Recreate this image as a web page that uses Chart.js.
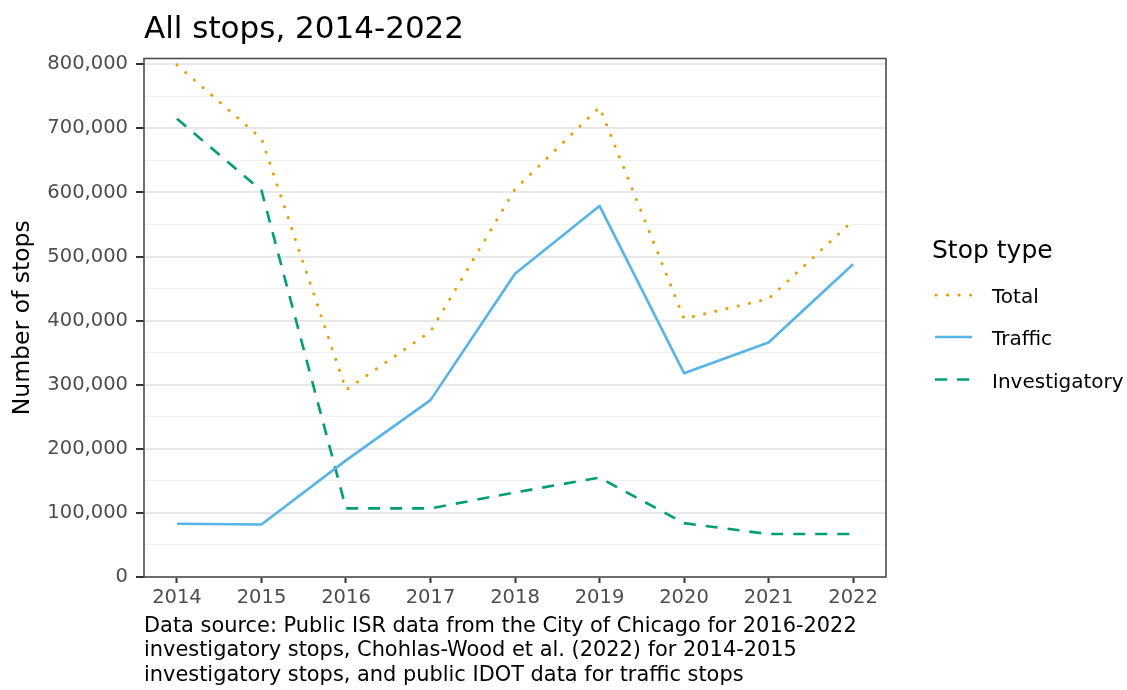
<!DOCTYPE html>
<html>
<head>
<meta charset="utf-8">
<script src="https://cdn.jsdelivr.net/npm/chart.js@4.4.1/dist/chart.umd.min.js"></script>
<style>
  html, body { margin: 0; padding: 0; background: #ffffff; }
  #wrap { width: 1127px; height: 690px; }
</style>
</head>
<body>
<div id="wrap"><canvas id="c" width="1127" height="690"></canvas></div>
<script>
// ---- data ----
const years = [2014, 2015, 2016, 2017, 2018, 2019, 2020, 2021, 2022];
const totalStops = [799000, 684000, 292000, 383000, 605000, 733000, 403000, 434000, 556000];
const trafficStops = [83000, 82000, 182000, 276000, 473000, 579000, 318000, 366000, 488000];
const investigatoryStops = [715000, 603000, 107000, 107000, 132000, 155000, 84000, 67000, 67000];
const seriesNames = ['Total', 'Traffic', 'Investigatory'];
const yMajorTicks = [0, 100000, 200000, 300000, 400000, 500000, 600000, 700000, 800000];
const yMinorTicks = [50000, 150000, 250000, 350000, 450000, 550000, 650000, 750000];
const titleText = 'All stops, 2014-2022';
const yAxisTitle = 'Number of stops';
const legendTitle = 'Stop type';
const captionLines = [
  'Data source: Public ISR data from the City of Chicago for 2016-2022',
  'investigatory stops, Chohlas-Wood et al. (2022) for 2014-2015',
  'investigatory stops, and public IDOT data for traffic stops'
];

const FONT = "'DejaVu Sans', 'Liberation Sans', sans-serif";
Chart.defaults.font.family = FONT;

const colors = ['#E69F00', '#56B4E9', '#009E73'];
const dashes = [[0.1, 11.4], [], [12, 10]];
const caps = ['round', 'butt', 'butt'];
const widths = [3, 2.6, 2.6];
const seriesValues = [totalStops, trafficStops, investigatoryStops];

const datasets = seriesNames.map((name, k) => ({
  label: name,
  data: years.map((yr, i) => ({ x: yr, y: seriesValues[k][i] })),
  borderColor: colors[k],
  backgroundColor: colors[k],
  borderWidth: widths[k],
  borderDash: dashes[k],
  borderCapStyle: caps[k],
  borderJoinStyle: 'round',
  pointRadius: 0,
  pointHoverRadius: 0,
  tension: 0,
  fill: false
}));

const isMajor = v => yMajorTicks.indexOf(v) !== -1;

const decorPlugin = {
  id: 'decor',
  afterDatasetsDraw(chart) {
    const { ctx, chartArea: a } = chart;
    ctx.save();
    ctx.strokeStyle = '#4d4d4d';
    ctx.lineWidth = 1.6;
    ctx.setLineDash([]);
    ctx.strokeRect(a.left, a.top, a.right - a.left, a.bottom - a.top);
    ctx.restore();
  },
  afterDraw(chart) {
    const { ctx } = chart;
    ctx.save();
    ctx.textAlign = 'left';
    ctx.textBaseline = 'alphabetic';
    ctx.fillStyle = '#000000';
    // title
    ctx.font = '31px ' + FONT;
    ctx.fillText(titleText, 144, 37.5);
    // caption
    ctx.font = '20.9px ' + FONT;
    const capY = [631.5, 656, 680.5];
    captionLines.forEach((t, i) => ctx.fillText(t, 144, capY[i]));
    // legend
    ctx.font = '25px ' + FONT;
    ctx.fillText(legendTitle, 932, 257.5);
    const rowY = [295, 337, 379.5];
    chart.data.datasets.forEach((ds, i) => {
      ctx.save();
      ctx.strokeStyle = ds.borderColor;
      ctx.lineWidth = ds.borderWidth;
      ctx.setLineDash(ds.borderDash);
      ctx.lineCap = ds.borderCapStyle;
      ctx.beginPath();
      ctx.moveTo(i === 0 ? 936 : 935, rowY[i]);
      ctx.lineTo(972, rowY[i]);
      ctx.stroke();
      ctx.restore();
      ctx.font = '20px ' + FONT;
      ctx.fillStyle = '#000000';
      ctx.fillText(ds.label, 992, rowY[i] + 8);
    });
    ctx.restore();
  }
};

new Chart(document.getElementById('c'), {
  type: 'line',
  data: { datasets },
  options: {
    responsive: false,
    animation: false,
    events: [],
    layout: { padding: { top: 58.5, right: 241, left: 0, bottom: 0 } },
    plugins: {
      legend: { display: false },
      title: { display: false },
      tooltip: { enabled: false }
    },
    scales: {
      x: {
        type: 'linear',
        min: 2013.61,
        max: 2022.39,
        afterFit: s => { s.height = 113; },
        afterBuildTicks: s => { s.ticks = years.map(v => ({ value: v })); },
        border: { display: false },
        grid: {
          display: true,
          drawOnChartArea: false,
          drawTicks: true,
          tickLength: 6,
          tickColor: '#333333',
          tickWidth: 2
        },
        ticks: {
          autoSkip: false,
          maxRotation: 0,
          padding: 3.5,
          color: '#4d4d4d',
          font: { size: 19.5 },
          callback: v => String(v)
        }
      },
      y: {
        type: 'linear',
        min: 0,
        max: 809000,
        afterFit: s => { s.width = 144; },
        afterBuildTicks: s => {
          s.ticks = yMajorTicks.concat(yMinorTicks).sort((a, b) => a - b).map(v => ({ value: v }));
        },
        border: { display: false },
        grid: {
          display: true,
          drawOnChartArea: true,
          drawTicks: true,
          tickLength: 8,
          color: c => isMajor(c.tick.value) ? '#e8e8e8' : '#f1f1f1',
          lineWidth: c => isMajor(c.tick.value) ? 2 : 1.2,
          tickColor: c => isMajor(c.tick.value) ? '#333333' : 'rgba(0,0,0,0)',
          tickWidth: 2
        },
        ticks: {
          autoSkip: false,
          padding: 8,
          color: '#4d4d4d',
          font: { size: 19.5 },
          callback: v => isMajor(v) ? v.toLocaleString('en-US') : ''
        },
        title: {
          display: true,
          text: yAxisTitle,
          color: '#000000',
          font: { size: 23.5 },
          padding: { top: 9, bottom: 0 }
        }
      }
    }
  },
  plugins: [decorPlugin]
});
</script>
</body>
</html>
